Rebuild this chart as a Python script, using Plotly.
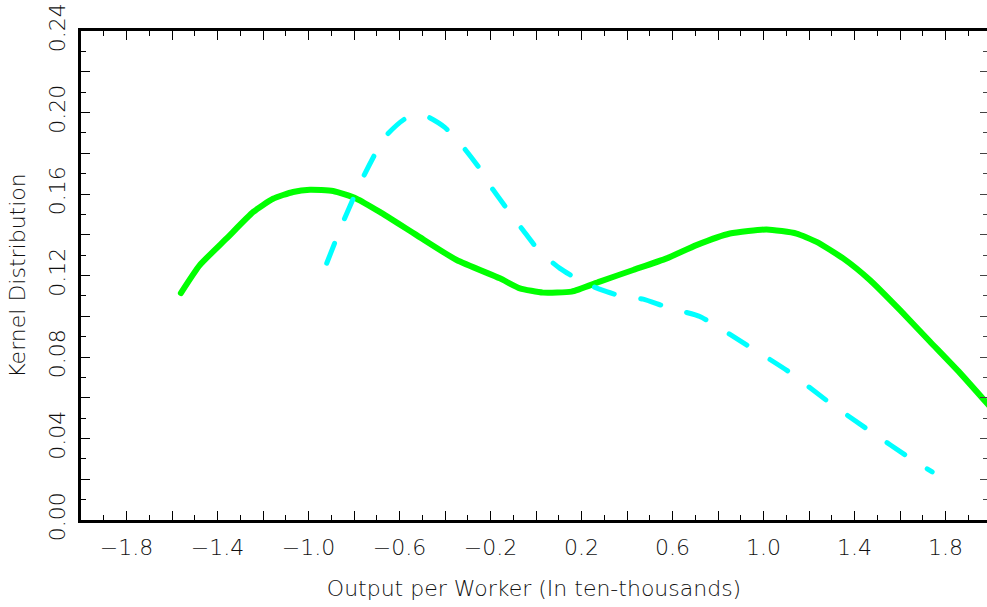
import plotly.graph_objects as go

# ---- data ----
green_x = [-1.561, -1.478, -1.360, -1.243, -1.156, -1.068, -0.994, -0.892, -0.789,
           -0.687, -0.525, -0.349, -0.159, -0.071, 0.031, 0.156, 0.280, 0.427,
           0.574, 0.705, 0.852, 1.013, 1.145, 1.233, 1.350, 1.467, 1.599, 1.731,
           1.863, 2.000]
green_y = [0.1114, 0.1251, 0.1382, 0.1512, 0.1577, 0.1610, 0.1621, 0.1615, 0.1577,
           0.1512, 0.1398, 0.1276, 0.1186, 0.1137, 0.1116, 0.1121, 0.1170, 0.1227,
           0.1284, 0.1349, 0.1406, 0.1426, 0.1406, 0.1365, 0.1284, 0.1178, 0.1031,
           0.0876, 0.0722, 0.0550]

cyan_x = [-0.920, -0.848, -0.767, -0.665, -0.577, -0.489, -0.401, -0.320, -0.247,
          -0.189, -0.123, -0.057, 0.017, 0.105, 0.200, 0.288, 0.383, 0.471, 0.559,
          0.647, 0.720, 0.925, 1.108, 1.291, 1.467, 1.651, 1.741]
cyan_y = [0.1260, 0.1463, 0.1667, 0.1879, 0.1968, 0.1985, 0.1927, 0.1830, 0.1724,
          0.1621, 0.1520, 0.1422, 0.1316, 0.1235, 0.1170, 0.1129, 0.1096, 0.1084,
          0.1051, 0.1023, 0.0999, 0.0860, 0.0730, 0.0575, 0.0437, 0.0298, 0.0236]

x_major_ticks = [-2.0, -1.8, -1.6, -1.4, -1.2, -1.0, -0.8, -0.6, -0.4, -0.2, 0.0,
                 0.2, 0.4, 0.6, 0.8, 1.0, 1.2, 1.4, 1.6, 1.8]
x_tick_labels = {-1.8: "\u22121.8", -1.4: "\u22121.4", -1.0: "\u22121.0",
                 -0.6: "\u22120.6", -0.2: "\u22120.2", 0.2: "0.2", 0.6: "0.6",
                 1.0: "1.0", 1.4: "1.4", 1.8: "1.8"}

y_major_ticks = [0.00, 0.02, 0.04, 0.06, 0.08, 0.10, 0.12, 0.14, 0.16, 0.18,
                 0.20, 0.22, 0.24]
y_tick_labels = {0.00: "0.00", 0.04: "0.04", 0.08: "0.08", 0.12: "0.12",
                 0.16: "0.16", 0.20: "0.20", 0.24: "0.24"}

x_title = "Output per Worker (In ten-thousands)"
y_title = "Kernel Distribution"

FONT = dict(family="DejaVu Sans", size=22, color="#111111", weight=200)

fig = go.Figure()
fig.add_trace(go.Scatter(x=green_x, y=green_y, mode="lines",
                         line=dict(color="#00FF00", width=6, shape="spline", smoothing=0.5),
                         showlegend=False, hoverinfo="skip"))
fig.add_trace(go.Scatter(x=cyan_x, y=cyan_y, mode="lines",
                         line=dict(color="#00FFFF", width=5, dash="21px,27px",
                                   shape="spline", smoothing=0.5),
                         showlegend=False, hoverinfo="skip"))
# empty trace to carry the right-hand mirrored tick axis
fig.add_trace(go.Scatter(x=[], y=[], yaxis="y2", showlegend=False, hoverinfo="skip"))

xtext = [x_tick_labels.get(v, "") for v in x_major_ticks]
ytext = [y_tick_labels.get(v, "") for v in y_major_ticks]

fig.update_layout(
    width=987, height=607,
    margin=dict(l=81, r=0, t=31, b=87, pad=0),
    paper_bgcolor="white", plot_bgcolor="white",
    font=FONT,
    xaxis=dict(range=[-2.0, 1.982], showgrid=False, zeroline=False, automargin=False,
               showline=True, linewidth=3, linecolor="black", mirror="ticks",
               ticks="inside", ticklen=9, tickwidth=1, tickcolor="black",
               tickmode="array", tickvals=x_major_ticks, ticktext=xtext,
               ticklabelstandoff=6,
               minor=dict(dtick=0.1, tick0=0, ticks="inside", ticklen=5,
                          tickwidth=1, tickcolor="black", showgrid=False),
               title=dict(text=x_title, font=FONT, standoff=22)),
    yaxis=dict(range=[0, 0.24], showgrid=False, zeroline=False, automargin=False,
               showline=True, linewidth=3, linecolor="black",
               ticks="inside", ticklen=9, tickwidth=1, tickcolor="black",
               tickmode="array", tickvals=y_major_ticks, ticktext=ytext,
               tickangle=-90, ticklabelstandoff=4,
               minor=dict(dtick=0.01, tick0=0, ticks="inside", ticklen=5,
                          tickwidth=1, tickcolor="black", showgrid=False),
               title=dict(text=y_title, font=FONT, standoff=14)),
    yaxis2=dict(range=[0, 0.24], overlaying="y", side="right", anchor="x",
                automargin=False,
                showgrid=False, zeroline=False, showline=False,
                ticks="inside", ticklen=7, tickwidth=1, tickcolor="#444444",
                tickmode="array", tickvals=y_major_ticks, showticklabels=False,
                minor=dict(dtick=0.01, tick0=0, ticks="inside", ticklen=4,
                           tickwidth=1, tickcolor="#444444", showgrid=False)),
)

post = """
document.body.style.margin='0';
document.body.style.padding='0';
document.querySelectorAll('.scatterlayer .js-line').forEach(function(p){
  p.style.strokeLinecap='round'; p.style.strokeLinejoin='round';
});
"""
fig.write_html("out.html", post_script=post, config={"displayModeBar": False})
